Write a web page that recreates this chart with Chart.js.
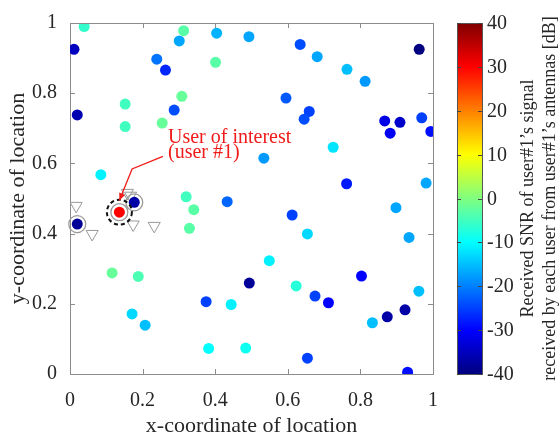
<!DOCTYPE html>
<html><head><meta charset="utf-8">
<script src="https://cdn.jsdelivr.net/npm/chart.js@4.4.0/dist/chart.umd.min.js"></script>
<style>html,body{margin:0;padding:0;background:#fff}#wrap{width:559px;height:441px}</style>
</head><body><div id="wrap"><canvas id="c" width="559" height="441"></canvas></div>
<script>
// ---------- data ----------
const userX = [0.039,0.011,0.020,0.085,0.152,0.152,0.254,0.308,0.287,0.239,0.263,0.301,0.313,0.404,0.401,0.320,0.341,0.177,0.136,0.020,
  0.493,0.634,0.681,0.763,0.813,0.962,0.595,0.659,0.645,0.867,0.909,0.882,0.969,0.994,0.725,0.534,0.433,0.762,0.981,0.898,
  0.612,0.654,0.934,0.549,0.494,0.623,0.675,0.712,0.803,0.961,0.923,0.874,0.833,0.444,0.484,0.654,0.930,0.329,0.116,0.188,
  0.375,0.171,0.207,0.382];
const userY = [0.990,0.925,0.738,0.568,0.769,0.705,0.715,0.791,0.752,0.897,0.866,0.949,0.978,0.971,0.888,0.505,0.468,0.489,0.461,0.427,
  0.961,0.939,0.904,0.868,0.834,0.925,0.786,0.748,0.726,0.721,0.717,0.686,0.730,0.691,0.646,0.615,0.491,0.542,0.544,0.474,
  0.453,0.399,0.389,0.323,0.259,0.251,0.222,0.203,0.279,0.236,0.183,0.163,0.146,0.198,0.074,0.045,0.005,0.415,0.288,0.278,
  0.206,0.171,0.139,0.073];
const userSNR = [-6,-35,-36,-11,-5,-5,-2,-2,-24,-21,-27,-17,-3,-16,-3,-5,-3,-37,30,-38,
  -17,-24,-17,-15,-18,-40,-23,-25,-24,-32,-34,-31,-25,-29,-12,-18,-22,-28,-17,-17,
  -25,-13,-17,-11,-38,-7,-25,-30,-30,-15,-37,-37,-15,-11,-9,-25,-29,-3,-2,-4,
  -25,-13,-15,-10];
const antennaX = [0.017,0.061,0.158,0.167,0.174,0.232];
const antennaY = [0.479,0.399,0.516,0.508,0.426,0.422];
const userOfInterest = 18;           // index into user arrays
const ringedUsers = [17, 18, 19];    // users drawn with a grey ring
const axisTicks = [0, 0.2, 0.4, 0.6, 0.8, 1];
const cbTicks = [40, 30, 20, 10, 0, -10, -20, -30, -40];
const cbMin = -40, cbMax = 40;
const xTitle = 'x-coordinate of location';
const yTitle = 'y-coordinate of location';
const cbTitle = ['Received SNR of user#1\u2019s signal', 'received by each user from user#1\u2019s antennas [dB]'];
const noteLines = ['User of interest', '(user #1)'];

// ---------- helpers ----------
function jet(t){
  t = Math.min(1, Math.max(0, t));
  const c = v => Math.round(255 * Math.min(1, Math.max(0, v)));
  return `rgb(${c(1.5-Math.abs(4*t-3))},${c(1.5-Math.abs(4*t-2))},${c(1.5-Math.abs(4*t-1))})`;
}
const snrColor = v => jet((v - cbMin) / (cbMax - cbMin));
const SERIF = '"Liberation Serif","DejaVu Serif",serif';
const TXT = '#262626', AX = '#8c8c8c';

const fmt = v => (Math.abs(v) < 1e-9 ? '0' : (Math.abs(v-1) < 1e-9 ? '1' : String(+v.toFixed(1))));

const decor = {
  id: 'decor',
  afterDatasetsDraw(chart){
    const {ctx, chartArea: a, scales:{x, y, cb}} = chart;
    ctx.save();
    // box + inward ticks
    ctx.strokeStyle = AX; ctx.lineWidth = 1;
    ctx.beginPath();
    ctx.moveTo(a.left + 0.5, a.top + 0.5); ctx.lineTo(a.right + 0.5, a.top + 0.5); ctx.lineTo(a.right + 0.5, a.bottom + 0.5);
    const tl = 5;
    axisTicks.forEach(v => {
      const px = Math.round(x.getPixelForValue(v)) + 0.5;
      ctx.moveTo(px, a.bottom); ctx.lineTo(px, a.bottom - tl);
      ctx.moveTo(px, a.top); ctx.lineTo(px, a.top + tl);
      const py = Math.round(y.getPixelForValue(v)) + 0.5;
      ctx.moveTo(a.left, py); ctx.lineTo(a.left + tl, py);
      ctx.moveTo(a.right, py); ctx.lineTo(a.right - tl, py);
    });
    ctx.stroke();

    // rings around selected users
    ringedUsers.forEach(i => {
      const px = x.getPixelForValue(userX[i]), py = y.getPixelForValue(userY[i]);
      ctx.beginPath(); ctx.strokeStyle = '#9a9a9a'; ctx.lineWidth = 1.3;
      ctx.arc(px, py, 8.5, 0, Math.PI*2); ctx.stroke();
    });
    // dashed circle around user of interest
    {
      const px = x.getPixelForValue(userX[userOfInterest]), py = y.getPixelForValue(userY[userOfInterest]);
      ctx.beginPath(); ctx.strokeStyle = '#111'; ctx.lineWidth = 2; ctx.setLineDash([4, 3]);
      ctx.arc(px, py, 12.5, 0, Math.PI*2); ctx.stroke(); ctx.setLineDash([]);
    }

    // annotation text + arrow (anchored in data units)
    const note = {x: 0.27, y1: 0.658, y2: 0.614};
    const arrow = [[0.256, 0.62], [0.171, 0.584], [0.136, 0.494]];
    ctx.fillStyle = '#f01a1a'; ctx.font = `20px ${SERIF}`; ctx.textAlign = 'left'; ctx.textBaseline = 'alphabetic';
    ctx.fillText(noteLines[0], x.getPixelForValue(note.x), y.getPixelForValue(note.y1));
    ctx.fillText(noteLines[1], x.getPixelForValue(note.x), y.getPixelForValue(note.y2));
    const pts = arrow.map(p => [x.getPixelForValue(p[0]), y.getPixelForValue(p[1])]);
    ctx.strokeStyle = '#f01a1a'; ctx.lineWidth = 1.3;
    ctx.beginPath(); ctx.moveTo(pts[0][0], pts[0][1]);
    for (let k = 1; k < pts.length; k++) ctx.lineTo(pts[k][0], pts[k][1]);
    ctx.stroke();
    const [p1, p2] = [pts[pts.length-2], pts[pts.length-1]];
    const ang = Math.atan2(p2[1]-p1[1], p2[0]-p1[0]);
    ctx.beginPath(); ctx.fillStyle = '#f01a1a';
    ctx.moveTo(p2[0], p2[1]);
    ctx.lineTo(p2[0] - 8*Math.cos(ang-0.4), p2[1] - 8*Math.sin(ang-0.4));
    ctx.lineTo(p2[0] - 8*Math.cos(ang+0.4), p2[1] - 8*Math.sin(ang+0.4));
    ctx.closePath(); ctx.fill();

    // colorbar
    const cbL = 457, cbR = 482;
    const yTop = cb.getPixelForValue(cbMax), yBot = cb.getPixelForValue(cbMin);
    const g = ctx.createLinearGradient(0, yBot, 0, yTop);
    for (let k = 0; k <= 64; k++) g.addColorStop(k/64, jet(k/64));
    ctx.fillStyle = g; ctx.fillRect(cbL, yTop, cbR - cbL, yBot - yTop);
    ctx.strokeStyle = '#555'; ctx.lineWidth = 1;
    ctx.strokeRect(cbL + 0.5, Math.round(yTop) + 0.5, cbR - cbL, Math.round(yBot - yTop));
    ctx.beginPath();
    ctx.font = `20px ${SERIF}`; ctx.fillStyle = TXT; ctx.textAlign = 'left'; ctx.textBaseline = 'middle';
    cbTicks.forEach(v => {
      const py = Math.round(cb.getPixelForValue(v)) + 0.5;
      ctx.moveTo(cbR, py); ctx.lineTo(cbR - 4, py);
      ctx.moveTo(cbL, py); ctx.lineTo(cbL + 4, py);
      ctx.fillText(String(v), cbR + 5, py);
    });
    ctx.strokeStyle = '#444'; ctx.stroke();

    // colorbar title (rotated)
    ctx.font = `18px ${SERIF}`; ctx.textAlign = 'center'; ctx.textBaseline = 'middle'; ctx.fillStyle = TXT;
    const cy = (yTop + yBot) / 2;
    [528, 550].forEach((cx, k) => {
      ctx.save(); ctx.translate(cx, cy); ctx.rotate(-Math.PI/2);
      ctx.fillText(cbTitle[k], 0, 0); ctx.restore();
    });
    ctx.restore();
  }
};

const tickFont = {family: SERIF, size: 20, lineHeight: 1};
new Chart(document.getElementById('c'), {
  type: 'scatter',
  data: {
    datasets: [
      {
        label: 'users',
        data: userX.map((vx, i) => ({x: vx, y: userY[i]})),
        backgroundColor: userSNR.map(snrColor),
        borderWidth: 0,
        pointRadius: 5.5,
        pointHoverRadius: 5.5,
        order: 1
      },
      {
        label: 'antennas',
        data: antennaX.map((vx, i) => ({x: vx, y: antennaY[i]})),
        pointStyle: 'triangle',
        pointRotation: 180,
        backgroundColor: 'rgba(255,255,255,0)',
        borderColor: '#999',
        borderWidth: 1,
        pointRadius: 7,
        pointHoverRadius: 7,
        order: 2
      }
    ]
  },
  options: {
    responsive: false,
    animation: false,
    devicePixelRatio: 1,
    events: [],
    layout: {padding: {left: 0, top: 11, right: 126, bottom: 0}},
    plugins: {legend: {display: false}, tooltip: {enabled: false}},
    scales: {
      x: {
        type: 'linear', position: 'bottom', min: 0, max: 1,
        afterBuildTicks: s => { s.ticks = axisTicks.map(v => ({value: v})); },
        afterFit: s => { s.height = 67; },
        grid: {display: false, drawTicks: false, tickLength: 0},
        border: {display: true, color: AX, width: 1},
        ticks: {font: tickFont, color: TXT, padding: 17, maxRotation: 0, callback: v => fmt(v)},
        title: {display: true, text: xTitle, color: TXT, font: {family: SERIF, size: 22, lineHeight: 1.2}, padding: {top: 0, bottom: 2}}
      },
      y: {
        type: 'linear', position: 'left', min: 0, max: 1,
        afterBuildTicks: s => { s.ticks = axisTicks.map(v => ({value: v})); },
        afterFit: s => { s.width = 70; },
        grid: {display: false, drawTicks: false, tickLength: 0},
        border: {display: true, color: AX, width: 1},
        ticks: {font: tickFont, color: TXT, padding: 13, callback: v => fmt(v)},
        title: {display: true, text: yTitle, color: TXT, font: {family: SERIF, size: 22, lineHeight: 1.2}, padding: {top: 5, bottom: 0}}
      },
      cb: {type: 'linear', position: 'right', min: cbMin, max: cbMax, display: false}
    }
  },
  plugins: [decor]
});
</script>
</body></html>
